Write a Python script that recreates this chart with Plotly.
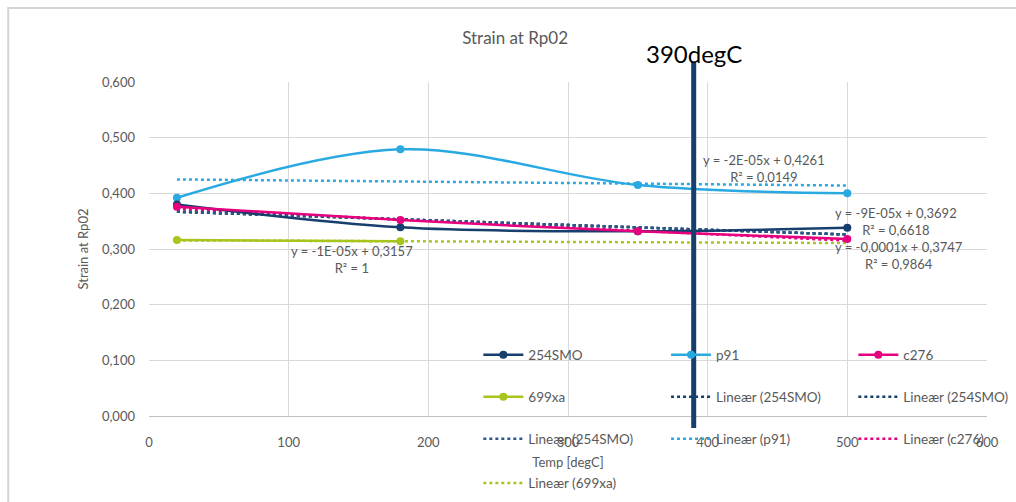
import plotly.graph_objects as go

# ---- data ----
temps = [20, 180, 350, 500]
s254smo = [0.380, 0.339, 0.332, 0.338]
p91 = [0.392, 0.479, 0.415, 0.400]
c276 = [0.376, 0.352, 0.332, 0.318]
x699 = [20, 180]
s699xa = [0.316, 0.314]

trend_x = [20, 500]
trend_254smo = [0.367, 0.326]
trend_p91 = [0.425, 0.414]
trend_c276 = [0.372, 0.315]
trend_699xa = [0.3155, 0.3107]

marker_temp = 390
marker_label = "390degC"

eq_texts = [
    "y = -1E-05x + 0,3157<br>R² = 1",
    "y = -2E-05x + 0,4261<br>R² = 0,0149",
    "y = -9E-05x + 0,3692<br>R² = 0,6618",
    "y = -0,0001x + 0,3747<br>R² = 0,9864",
]
eq_x = [145, 440, 535, 537]
eq_y = [0.282, 0.445, 0.349, 0.289]

NAVY = "#173f6d"
BLUE = "#29a9e1"
PINK = "#e6007e"
GREEN = "#a6c51d"
GREY = "#595959"
FONT = "Lato"

# legend slot positions (column, row) for each legend entry
col_x = [0.393, 0.617, 0.8405]
row_y = [0.183, 0.057, -0.069, -0.201]

fig = go.Figure()
legend_layout = {}
slot_counter = [0]

def new_legend(col, row):
    slot_counter[0] += 1
    n = slot_counter[0]
    key = "legend" if n == 1 else f"legend{n}"
    legend_layout[key] = dict(x=col_x[col], y=row_y[row], xanchor="left", yanchor="middle",
                              orientation="v", bgcolor="rgba(0,0,0,0)", itemwidth=40,
                              font=dict(family=FONT, size=13.5, color=GREY))
    return key

def solid(x, y, name, color, slot):
    fig.add_trace(go.Scatter(x=x, y=y, name=name, mode="lines+markers",
                             line=dict(color=color, width=2.5, shape="spline"),
                             marker=dict(color=color, size=8), legend=slot))

def dotted(y, name, color, slot):
    fig.add_trace(go.Scatter(x=trend_x, y=y, name=name, mode="lines",
                             line=dict(color=color, width=2.5, dash="dot"),
                             legend=slot))

L = {}
for key, (c, r) in {
    "254SMO": (0, 0), "p91": (1, 0), "c276": (2, 0),
    "699xa": (0, 1), "lin254a": (1, 1), "lin254b": (2, 1),
    "lin254c": (0, 2), "linp91": (1, 2), "linc276": (2, 2),
    "lin699": (0, 3),
}.items():
    L[key] = new_legend(c, r)

# drawing order: trends under solids
dotted(trend_699xa, "Lineær (699xa)", GREEN, L["lin699"])
dotted(trend_p91, "Lineær (p91)", BLUE, L["linp91"])
dotted(trend_c276, "Lineær (c276)", PINK, L["linc276"])
dotted(trend_254smo, "Lineær (254SMO)", NAVY, L["lin254a"])
dotted(trend_254smo, "Lineær (254SMO)", NAVY, L["lin254b"])
dotted(trend_254smo, "Lineær (254SMO)", "#2a5a8c", L["lin254c"])

solid(x699, s699xa, "699xa", GREEN, L["699xa"])
solid(temps, p91, "p91", BLUE, L["p91"])
solid(temps, s254smo, "254SMO", NAVY, L["254SMO"])
solid(temps, c276, "c276", PINK, L["c276"])

# vertical marker line
fig.add_shape(type="line", xref="x", yref="paper", x0=marker_temp, x1=marker_temp,
              y0=-0.036, y1=1.06, line=dict(color=NAVY, width=5), layer="above")
fig.add_annotation(x=marker_temp, xref="x", y=1.084, yref="paper", text=marker_label,
                   showarrow=False, font=dict(family=FONT, size=24, color="black"),
                   yanchor="middle")

for t, x, y in zip(eq_texts, eq_x, eq_y):
    fig.add_annotation(x=x, y=y, text=t, showarrow=False,
                       font=dict(family=FONT, size=13, color=GREY), align="center")

# outer chart frame
fig.add_shape(type="rect", xref="paper", yref="paper", x0=-0.168, x1=1.2, y0=-0.4,
              y1=1.2216, line=dict(color="#d4d4d4", width=2), layer="below")

fig.update_layout(
    width=1016, height=502,
    margin=dict(l=149, r=29, t=82, b=86, autoexpand=False),
    paper_bgcolor="white", plot_bgcolor="white",
    separators=", ",
    font=dict(family=FONT, size=13, color=GREY),
    title=dict(text="Strain at Rp02", x=0.507, xref="container", y=1 - 38 / 502,
               yref="container", xanchor="center", yanchor="middle",
               font=dict(family=FONT, size=17, color=GREY)),
    xaxis=dict(range=[0, 600], dtick=100, tick0=0, showgrid=True, gridcolor="#d9d9d9",
               gridwidth=1, zeroline=False, showline=True, linecolor="#bfbfbf",
               ticks="", ticklabelstandoff=14,
               title=dict(text="Temp [degC]", standoff=9,
                          font=dict(family=FONT, size=13, color=GREY))),
    yaxis=dict(range=[0, 0.6], dtick=0.1, tick0=0, tickformat=".3f", showgrid=True,
               gridcolor="#d9d9d9", gridwidth=1, zeroline=False, showline=False,
               ticks="", ticklabelstandoff=13,
               title=dict(text="Strain at Rp02", standoff=10,
                          font=dict(family=FONT, size=13, color=GREY))),
    showlegend=True,
    **legend_layout,
)

fig.write_html("out.html")
